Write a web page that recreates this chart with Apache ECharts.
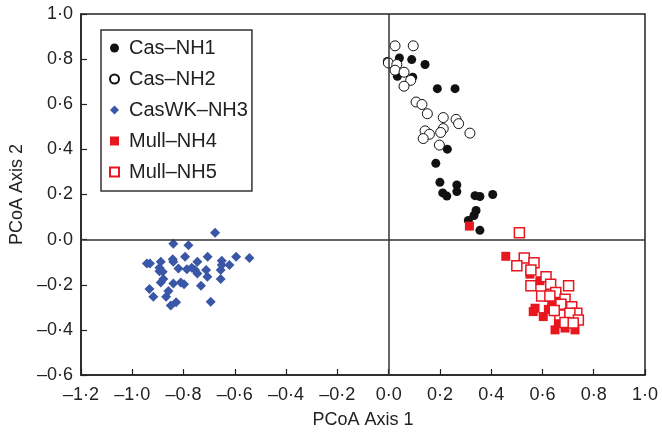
<!DOCTYPE html>
<html>
<head>
<meta charset="utf-8">
<script src="https://cdn.jsdelivr.net/npm/echarts@6/dist/echarts.min.js"></script>
<style>
  html, body { margin: 0; padding: 0; background: #fff; }
  #chart { width: 662px; height: 434px; }
</style>
</head>
<body>
<div id="chart"></div>
<script>
// PCoA scores, [axis1, axis2]
const seriesNames = ["Cas\u2013NH1", "Cas\u2013NH2", "CasWK\u2013NH3", "Mull\u2013NH4", "Mull\u2013NH5"];

const casNH1 = [
  [-0.005, 0.79], [0.042, 0.805], [0.09, 0.798], [0.142, 0.776], [0.034, 0.724],
  [0.094, 0.72], [0.19, 0.669], [0.259, 0.669], [0.229, 0.401], [0.184, 0.338],
  [0.2, 0.254], [0.211, 0.207], [0.227, 0.193], [0.266, 0.242], [0.266, 0.213],
  [0.337, 0.195], [0.356, 0.191], [0.406, 0.2], [0.341, 0.129], [0.333, 0.107],
  [0.311, 0.085], [0.356, 0.041]
];

const casNH2 = [
  [0.025, 0.859], [0.096, 0.859], [-0.001, 0.783], [0.032, 0.776], [0.025, 0.751],
  [0.06, 0.742], [0.086, 0.706], [0.06, 0.68], [0.107, 0.61], [0.13, 0.599],
  [0.151, 0.558], [0.213, 0.541], [0.263, 0.533], [0.273, 0.514], [0.213, 0.492],
  [0.317, 0.472], [0.142, 0.482], [0.159, 0.467], [0.203, 0.475], [0.135, 0.448],
  [0.198, 0.419]
];

const casWKNH3 = [
  [-0.677, 0.031], [-0.84, -0.018], [-0.781, -0.025], [-0.943, -0.106], [-0.931, -0.106],
  [-0.889, -0.098], [-0.842, -0.087], [-0.84, -0.098], [-0.794, -0.076], [-0.706, -0.076],
  [-0.746, -0.098], [-0.651, -0.094], [-0.651, -0.113], [-0.621, -0.113], [-0.595, -0.076],
  [-0.543, -0.081], [-0.894, -0.125], [-0.894, -0.14], [-0.881, -0.142], [-0.82, -0.128],
  [-0.787, -0.131], [-0.768, -0.125], [-0.755, -0.135], [-0.746, -0.15], [-0.712, -0.135],
  [-0.707, -0.164], [-0.655, -0.135], [-0.879, -0.175], [-0.889, -0.19], [-0.84, -0.194],
  [-0.811, -0.19], [-0.798, -0.198], [-0.732, -0.204], [-0.655, -0.175], [-0.933, -0.219],
  [-0.859, -0.228], [-0.868, -0.253], [-0.918, -0.253], [-0.829, -0.278], [-0.85, -0.292],
  [-0.694, -0.275]
];

const mullNH4 = [
  [0.315, 0.06], [0.457, -0.074], [0.551, -0.153], [0.59, -0.182], [0.656, -0.245],
  [0.636, -0.29], [0.571, -0.304], [0.564, -0.319], [0.603, -0.341], [0.623, -0.309],
  [0.649, -0.319], [0.668, -0.348], [0.662, -0.37], [0.649, -0.4], [0.688, -0.392],
  [0.727, -0.4], [0.705, -0.363]
];

const mullNH5 = [
  [0.51, 0.031], [0.529, -0.081], [0.5, -0.116], [0.567, -0.103], [0.555, -0.135],
  [0.614, -0.164], [0.555, -0.204], [0.632, -0.198], [0.702, -0.204], [0.652, -0.234],
  [0.597, -0.25], [0.629, -0.25], [0.688, -0.264], [0.672, -0.286], [0.714, -0.297],
  [0.734, -0.326], [0.668, -0.334], [0.707, -0.326], [0.688, -0.367], [0.74, -0.356],
  [0.72, -0.37], [0.646, -0.314]
];

const font = "'Liberation Sans', Arial, Helvetica, sans-serif";

// 0.2 -> "0·2", -0.2 -> "–0·2"
function tickLabel(v) {
  if (Math.abs(v) < 1e-9) v = 0;
  return v.toFixed(1).replace(".", "\u00b7").replace("-", "\u2013");
}

const chart = echarts.init(document.getElementById("chart"), null, { renderer: "canvas" });

const axisCommon = {
  type: "value",
  interval: 0.2,
  nameLocation: "middle",
  nameTextStyle: { fontSize: 18, color: "#222", fontFamily: font },
  axisLine: { onZero: false, lineStyle: { color: "#222", width: 1.5 } },
  axisTick: { inside: true, length: 6, lineStyle: { color: "#222", width: 1.2 } },
  axisLabel: { fontSize: 18, color: "#222", fontFamily: font, formatter: tickLabel },
  splitLine: { show: false }
};

const option = {
  animation: false,
  backgroundColor: "#fff",
  grid: {
    left: 81, right: 17, top: 14, bottom: 57,
    show: true, borderColor: "#222", borderWidth: 1.5
  },
  xAxis: Object.assign({}, axisCommon, {
    min: -1.2, max: 1.0,
    name: "PCoA Axis 1", nameGap: 36,
    axisLabel: Object.assign({}, axisCommon.axisLabel, { margin: 11 })
  }),
  yAxis: Object.assign({}, axisCommon, {
    min: -0.6, max: 1.0,
    name: "PCoA Axis 2", nameGap: 54,
    axisLabel: Object.assign({}, axisCommon.axisLabel, { margin: 8 })
  }),
  legend: {
    orient: "vertical",
    left: 101, top: 30,
    padding: [8, 4, 9, 8],
    itemGap: 11,
    itemWidth: 9, itemHeight: 9,
    borderColor: "#333", borderWidth: 1.5,
    textStyle: { fontSize: 20, color: "#222", fontFamily: font, lineHeight: 20, padding: [0, 0, 0, 5] },
    data: seriesNames
  },
  series: [
    {
      name: seriesNames[0], type: "scatter", data: casNH1,
      symbol: "circle", symbolSize: 9, z: 3,
      itemStyle: { color: "#111", opacity: 1 },
      markLine: {
        silent: true, symbol: "none", animation: false,
        label: { show: false },
        lineStyle: { color: "#333", width: 1.5, type: "solid" },
        data: [{ xAxis: 0 }, { yAxis: 0 }]
      }
    },
    {
      name: seriesNames[1], type: "scatter", data: casNH2,
      symbol: "circle", symbolSize: 10, z: 4,
      itemStyle: { color: "#fff", borderColor: "#111", borderWidth: 1, opacity: 1 }
    },
    {
      name: seriesNames[2], type: "scatter", data: casWKNH3,
      symbol: "diamond", symbolSize: 10, z: 3,
      itemStyle: { color: "#3a57a7", opacity: 1 }
    },
    {
      name: seriesNames[3], type: "scatter", data: mullNH4,
      symbol: "rect", symbolSize: 9, z: 3,
      itemStyle: { color: "#e8161f", opacity: 1 }
    },
    {
      name: seriesNames[4], type: "scatter", data: mullNH5,
      symbol: "rect", symbolSize: 10, z: 4,
      itemStyle: { color: "#fff", borderColor: "#e8161f", borderWidth: 1.5, opacity: 1 }
    }
  ]
};

chart.setOption(option);
window.addEventListener("resize", () => chart.resize());
</script>
</body>
</html>
